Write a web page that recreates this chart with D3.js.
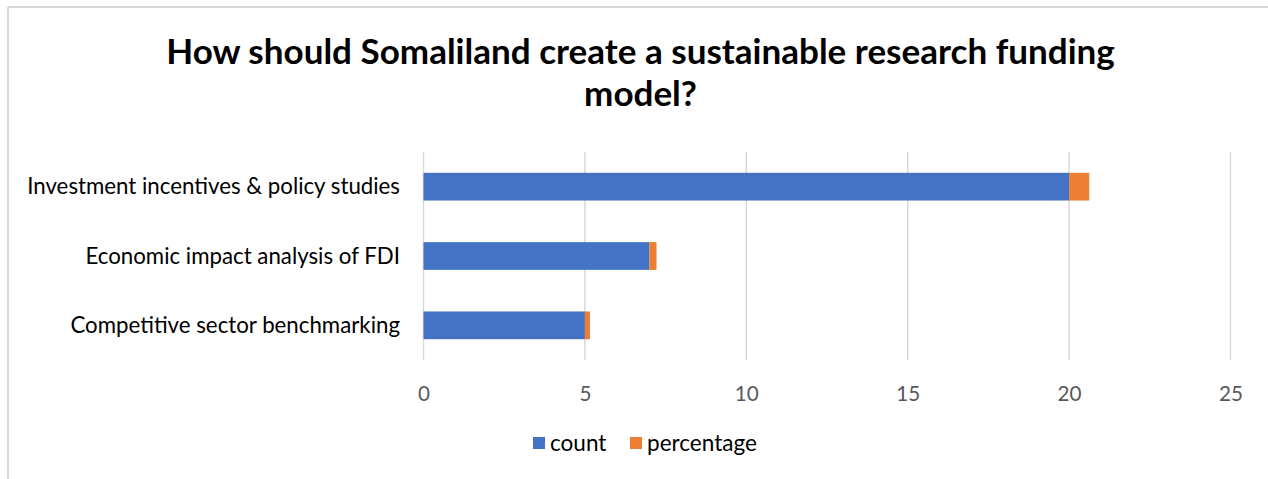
<!DOCTYPE html>
<html><head><meta charset="utf-8">
<script src="https://cdn.jsdelivr.net/npm/d3@7"></script>
<style>body{margin:0;background:#fff;} svg{display:block;}</style>
</head><body>
<svg id="c" width="1268" height="479"></svg>
<script>
const categories = ["Investment incentives & policy studies", "Economic impact analysis of FDI", "Competitive sector benchmarking"];
const countValues = [20, 7, 5];
const percentageValues = [0.625, 0.21875, 0.15625];
const xTicks = [0, 5, 10, 15, 20, 25];
const seriesNames = ["count", "percentage"];
const colors = ["#4472C4", "#ED7D31"];
const titleLines = ["How should Somaliland create a sustainable research funding", "model?"];

const svg = d3.select("#c");
const FONT = "Lato, 'Open Sans', sans-serif";

// frame
svg.append("line").attr("x1",8).attr("x2",1268).attr("y1",7).attr("y2",7).attr("stroke","#d9d9d9").attr("stroke-width",2);
svg.append("line").attr("x1",8).attr("x2",8).attr("y1",7).attr("y2",479).attr("stroke","#d9d9d9").attr("stroke-width",2);

function fitSize(text, weight, targetW){
  const t = svg.append("text").attr("font-family",FONT).attr("font-weight",weight).attr("font-size",100).text(text);
  const w = t.node().getComputedTextLength(); t.remove();
  return 100*targetW/w;
}

const x = d3.scaleLinear().domain([0,25]).range([423.5,1230.5]);
const y = d3.scaleBand().domain(categories).range([152,360]).padding(0);
const barH = y.bandwidth()*0.4;

// gridlines
svg.append("g").selectAll("line").data(xTicks).join("line")
  .attr("x1",d=>x(d)).attr("x2",d=>x(d)).attr("y1",152).attr("y2",360)
  .attr("stroke","#d9d9d9").attr("stroke-width",1.5);

// stacked bars
const rows = categories.map((c,i)=>({c, v:[countValues[i], percentageValues[i]]}));
const g = svg.append("g");
rows.forEach(r=>{
  let acc=0;
  r.v.forEach((v,k)=>{
    g.append("rect").attr("x",x(acc)).attr("width",x(acc+v)-x(acc))
     .attr("y",y(r.c)+y.bandwidth()/2-barH/2).attr("height",barH).attr("fill",colors[k]);
    acc+=v;
  });
});

// x axis labels
const tickSize = fitSize("25","normal",24);
const xAxis = d3.axisBottom(x).tickValues(xTicks).tickSize(0).tickPadding(0);
const xa = svg.append("g").attr("transform","translate(0,360)").call(xAxis);
xa.select(".domain").remove();
xa.selectAll("text").attr("font-family",FONT).attr("font-size",tickSize).attr("fill","#595959").attr("dy",null).attr("y",41);

// y axis labels
const catSize = fitSize(categories[0],"normal",373);
const yAxis = d3.axisLeft(y).tickSize(0).tickPadding(0);
const ya = svg.append("g").attr("transform","translate(400,0)").call(yAxis);
ya.select(".domain").remove();
ya.selectAll("text").attr("font-family",FONT).attr("font-size",catSize).attr("fill","#000").attr("dy","0.35em");

// title
const tSize = fitSize(titleLines[0],"bold",949);
svg.append("g").selectAll("text").data(titleLines).join("text")
  .attr("x",640.5).attr("y",(d,i)=>64+i*42).attr("text-anchor","middle")
  .attr("font-family",FONT).attr("font-weight","bold").attr("font-size",tSize).attr("fill","#000").text(d=>d);

// legend
const legSize = fitSize("percentage","normal",110);
const leg = svg.append("g");
const legX = [533, 630];
seriesNames.forEach((s,i)=>{
  leg.append("rect").attr("x",legX[i]).attr("y",437).attr("width",12).attr("height",12).attr("fill",colors[i]);
  leg.append("text").attr("x",legX[i]+17).attr("y",451).attr("font-family",FONT).attr("font-size",legSize).attr("fill","#000").text(s);
});
</script>
</body></html>
